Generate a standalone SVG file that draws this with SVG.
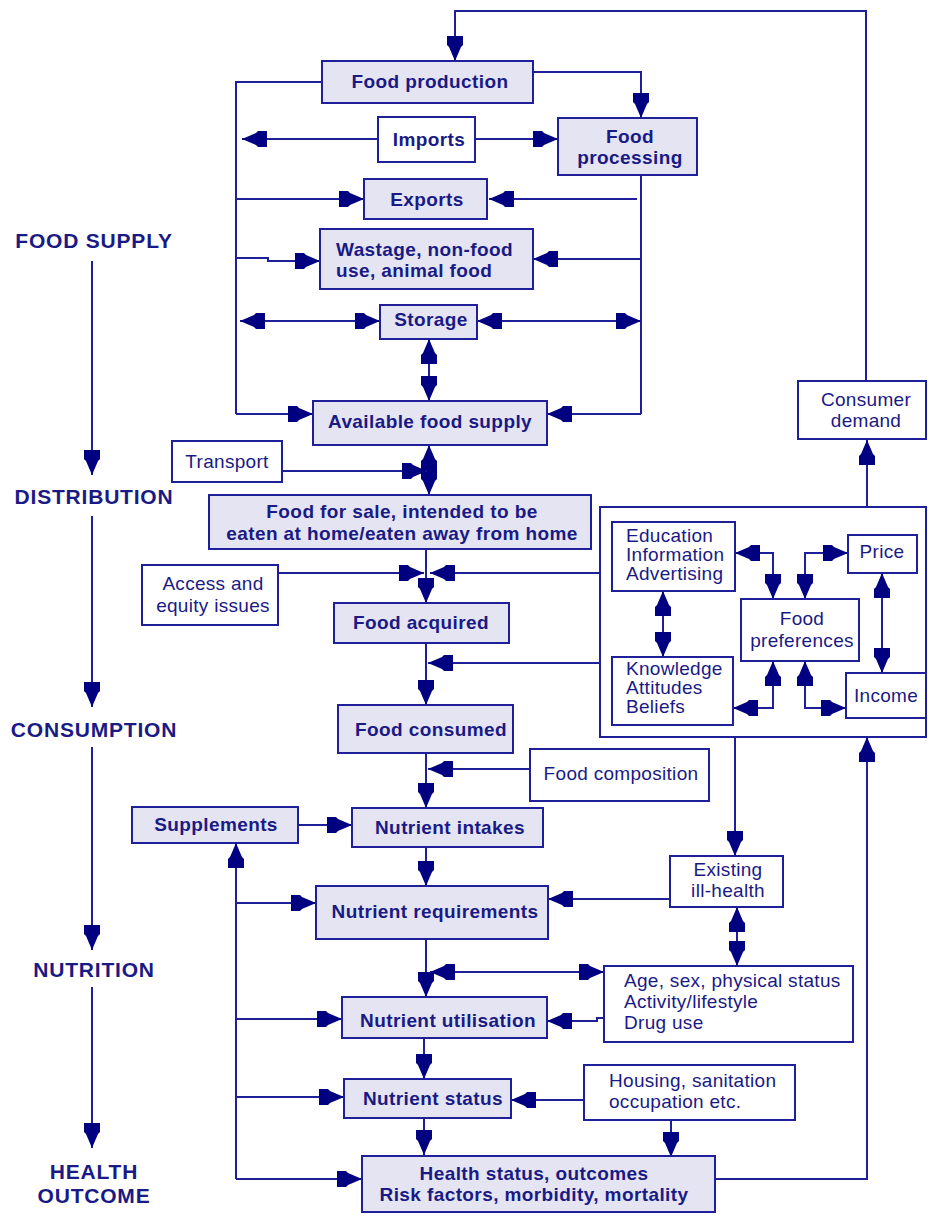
<svg xmlns="http://www.w3.org/2000/svg" width="928" height="1214" viewBox="0 0 928 1214">
<defs>
<style>
.box{fill:#e4e4f3;stroke:#1f1f99;stroke-width:2}
.wbox{fill:#ffffff;stroke:#1f1f99;stroke-width:2}
.b{font-family:"Liberation Sans",Arial,sans-serif;font-weight:bold;font-size:19px;letter-spacing:0.4px;fill:#1a1a85}
.r{font-family:"Liberation Sans",Arial,sans-serif;font-size:19px;letter-spacing:0.3px;fill:#1a1a85}
.s{font-family:"Liberation Sans",Arial,sans-serif;font-weight:bold;font-size:21px;letter-spacing:0.8px;fill:#1a1a85;text-anchor:middle}
.m{text-anchor:middle}
.ln{fill:none;stroke:#1f1f99;stroke-width:2}
.a{marker-end:url(#ah)}
.aa{marker-start:url(#ah);marker-end:url(#ah)}
</style>
<marker id="ah" markerUnits="userSpaceOnUse" viewBox="-26 -9 27 18" refX="0" refY="0" markerWidth="27" markerHeight="18" orient="auto-start-reverse">
<path d="M0,0 L-14,-6 L-16,-8 L-25,-8 L-25,8 L-16,8 L-14,6 Z" fill="#000080"/>
</marker>
</defs>
<rect width="928" height="1214" fill="#ffffff"/>

<g id="preferences-group"><rect class="wbox" x="600" y="507" width="326" height="230"/></g>

<g id="connectors">
<polyline class="ln a" points="866,381 866,11 455,11 455,61"/>
<polyline class="ln a" points="533,72 641,72 641,118"/>
<polyline class="ln" points="322,82 236,82 236,414"/>
<line class="ln a" x1="378" y1="139" x2="242" y2="139"/>
<line class="ln a" x1="475" y1="139" x2="558" y2="139"/>
<line class="ln a" x1="236" y1="199" x2="364" y2="199"/>
<polyline class="ln a" points="236,258 268,258 268,261 320,261"/>
<line class="ln aa" x1="240" y1="321" x2="380" y2="321"/>
<line class="ln a" x1="236" y1="414" x2="313" y2="414"/>
<line class="ln" x1="641" y1="175" x2="641" y2="414"/>
<line class="ln a" x1="637" y1="199" x2="489" y2="199"/>
<line class="ln a" x1="641" y1="259" x2="533" y2="259"/>
<line class="ln aa" x1="477" y1="321" x2="641" y2="321"/>
<line class="ln a" x1="641" y1="414" x2="547" y2="414"/>
<line class="ln aa" x1="429" y1="339" x2="429" y2="401"/>
<line class="ln aa" x1="429" y1="445" x2="429" y2="495"/>
<line class="ln a" x1="282" y1="471" x2="427" y2="471"/>
<line class="ln a" x1="426" y1="549" x2="426" y2="603"/>
<line class="ln a" x1="278" y1="573" x2="424" y2="573"/>
<line class="ln a" x1="600" y1="573" x2="430" y2="573"/>
<line class="ln a" x1="426" y1="643" x2="426" y2="705"/>
<line class="ln a" x1="600" y1="663" x2="428" y2="663"/>
<line class="ln a" x1="426" y1="753" x2="426" y2="808"/>
<line class="ln a" x1="530" y1="769" x2="428" y2="769"/>
<line class="ln a" x1="298" y1="825" x2="352" y2="825"/>
<line class="ln a" x1="426" y1="847" x2="426" y2="886"/>
<line class="ln a" x1="426" y1="939" x2="426" y2="997"/>
<line class="ln a" x1="424" y1="1038" x2="424" y2="1079"/>
<line class="ln a" x1="424" y1="1118" x2="424" y2="1155"/>
<line class="ln a" x1="236" y1="1179" x2="236" y2="843"/>
<line class="ln a" x1="236" y1="903" x2="316" y2="903"/>
<line class="ln a" x1="236" y1="1019" x2="342" y2="1019"/>
<line class="ln a" x1="236" y1="1097" x2="344" y2="1097"/>
<line class="ln a" x1="236" y1="1179" x2="362" y2="1179"/>
<line class="ln a" x1="670" y1="899" x2="548" y2="899"/>
<line class="ln a" x1="735" y1="737" x2="735" y2="856"/>
<line class="ln aa" x1="737" y1="907" x2="737" y2="966"/>
<line class="ln aa" x1="604" y1="972" x2="430" y2="972"/>
<polyline class="ln a" points="604,1018 597,1018 597,1021 547,1021"/>
<line class="ln a" x1="584" y1="1100" x2="511" y2="1100"/>
<line class="ln a" x1="671" y1="1120" x2="671" y2="1157"/>
<polyline class="ln a" points="715,1179 867,1179 867,737"/>
<line class="ln a" x1="867" y1="507" x2="867" y2="440"/>
<polyline class="ln aa" points="735,553 773,553 773,599"/>
<polyline class="ln aa" points="848,553 805,553 805,599"/>
<polyline class="ln aa" points="733,708 773,708 773,661"/>
<polyline class="ln aa" points="846,708 805,708 805,661"/>
<line class="ln aa" x1="663" y1="591" x2="663" y2="657"/>
<line class="ln aa" x1="882" y1="573" x2="882" y2="673"/>
<line class="ln a" x1="92" y1="261" x2="92" y2="475"/>
<line class="ln a" x1="92" y1="516" x2="92" y2="707"/>
<line class="ln a" x1="92" y1="747" x2="92" y2="950"/>
<line class="ln a" x1="92" y1="987" x2="92" y2="1148"/>
</g>

<g id="stages">
<text class="s" x="94" y="248">FOOD SUPPLY</text>
<text class="s" x="94" y="504">DISTRIBUTION</text>
<text class="s" x="94" y="737">CONSUMPTION</text>
<text class="s" x="94" y="977">NUTRITION</text>
<text class="s" x="94" y="1179">HEALTH</text>
<text class="s" x="94" y="1203">OUTCOME</text>
</g>

<g id="food-production"><rect class="box" x="322" y="61" width="211" height="42"/><text class="b m" x="430" y="88">Food production</text></g>
<g id="imports"><rect class="wbox" x="378" y="117" width="97" height="45"/><text class="b m" x="429" y="146">Imports</text></g>
<g id="food-processing"><rect class="box" x="558" y="118" width="139" height="57"/><text class="b m" x="630" y="143">Food</text><text class="b m" x="630" y="164">processing</text></g>
<g id="exports"><rect class="box" x="364" y="179" width="123" height="40"/><text class="b m" x="427" y="206">Exports</text></g>
<g id="wastage"><rect class="box" x="320" y="229" width="213" height="60"/><text class="b" x="336" y="256">Wastage, non-food</text><text class="b" x="336" y="277">use, animal food</text></g>
<g id="storage"><rect class="box" x="380" y="305" width="97" height="34"/><text class="b m" x="431" y="326">Storage</text></g>
<g id="available-food-supply"><rect class="box" x="313" y="401" width="234" height="44"/><text class="b m" x="430" y="428">Available food supply</text></g>
<g id="transport"><rect class="wbox" x="172" y="441" width="110" height="41"/><text class="r m" x="227" y="468">Transport</text></g>
<g id="food-for-sale"><rect class="box" x="209" y="495" width="382" height="54"/><text class="b m" x="402" y="518">Food for sale, intended to be</text><text class="b m" x="402" y="540">eaten at home/eaten away from home</text></g>
<g id="access-equity"><rect class="wbox" x="142" y="565" width="136" height="60"/><text class="r m" x="213" y="590">Access and</text><text class="r m" x="213" y="612">equity issues</text></g>
<g id="food-acquired"><rect class="box" x="334" y="603" width="175" height="40"/><text class="b m" x="421" y="629">Food acquired</text></g>
<g id="education"><rect class="wbox" x="612" y="522" width="123" height="69"/><text class="r" x="626" y="542">Education</text><text class="r" x="626" y="561">Information</text><text class="r" x="626" y="580">Advertising</text></g>
<g id="knowledge"><rect class="wbox" x="612" y="657" width="121" height="68"/><text class="r" x="626" y="675">Knowledge</text><text class="r" x="626" y="694">Attitudes</text><text class="r" x="626" y="713">Beliefs</text></g>
<g id="food-preferences"><rect class="wbox" x="741" y="599" width="118" height="62"/><text class="r m" x="802" y="625">Food</text><text class="r m" x="802" y="647">preferences</text></g>
<g id="price"><rect class="wbox" x="848" y="535" width="69" height="38"/><text class="r m" x="882" y="558">Price</text></g>
<g id="income"><rect class="wbox" x="846" y="673" width="80" height="45"/><text class="r m" x="886" y="702">Income</text></g>
<g id="consumer-demand"><rect class="wbox" x="798" y="381" width="128" height="58"/><text class="r m" x="866" y="406">Consumer</text><text class="r m" x="866" y="427">demand</text></g>
<g id="food-consumed"><rect class="box" x="338" y="705" width="175" height="48"/><text class="b m" x="431" y="736">Food consumed</text></g>
<g id="food-composition"><rect class="wbox" x="530" y="749" width="179" height="52"/><text class="r m" x="621" y="780">Food composition</text></g>
<g id="supplements"><rect class="box" x="132" y="807" width="166" height="36"/><text class="b m" x="216" y="831">Supplements</text></g>
<g id="nutrient-intakes"><rect class="box" x="352" y="808" width="191" height="39"/><text class="b m" x="450" y="834">Nutrient intakes</text></g>
<g id="nutrient-requirements"><rect class="box" x="316" y="886" width="232" height="53"/><text class="b m" x="435" y="918">Nutrient requirements</text></g>
<g id="existing-ill-health"><rect class="wbox" x="670" y="856" width="113" height="51"/><text class="r m" x="728" y="876">Existing</text><text class="r m" x="728" y="897">ill-health</text></g>
<g id="age-sex"><rect class="wbox" x="604" y="966" width="249" height="76"/><text class="r" x="624" y="987">Age, sex, physical status</text><text class="r" x="624" y="1008">Activity/lifestyle</text><text class="r" x="624" y="1029">Drug use</text></g>
<g id="nutrient-utilisation"><rect class="box" x="342" y="997" width="205" height="41"/><text class="b m" x="448" y="1027">Nutrient utilisation</text></g>
<g id="nutrient-status"><rect class="box" x="344" y="1079" width="167" height="39"/><text class="b m" x="433" y="1105">Nutrient status</text></g>
<g id="housing"><rect class="wbox" x="584" y="1065" width="211" height="55"/><text class="r" x="609" y="1087">Housing, sanitation</text><text class="r" x="609" y="1108">occupation etc.</text></g>
<g id="health-status"><rect class="box" x="362" y="1156" width="353" height="56"/><text class="b m" x="534" y="1180">Health status, outcomes</text><text class="b m" x="534" y="1201">Risk factors, morbidity, mortality</text></g>
</svg>
